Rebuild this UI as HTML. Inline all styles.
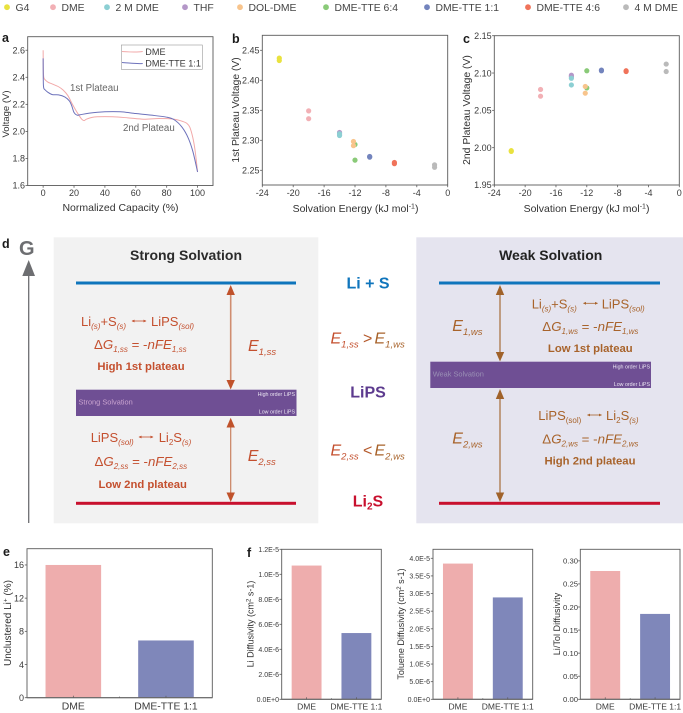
<!DOCTYPE html>
<html lang="en">
<head>
<meta charset="utf-8">
<title>Solvation energy and plateau voltage figure</title>
<style>
html,body{margin:0;padding:0;background:#fff;}
svg{display:block;font-family:"Liberation Sans",Arial,sans-serif;filter:blur(0.3px);}
</style>
</head>
<body>
<svg id="figure" xmlns="http://www.w3.org/2000/svg" width="683" height="713" viewBox="0 0 683 713">
  <rect x="0" y="0" width="683" height="713" fill="#ffffff"/>

  <g id="legend" font-size="10.4" fill="#444"></g>

  <g font-size="12.5" font-weight="bold" fill="#1a1a1a">
    <text x="2" y="42">a</text>
    <text x="232" y="43">b</text>
    <text x="463" y="43">c</text>
    <text x="2" y="248">d</text>
    <text x="3" y="556">e</text>
    <text x="247" y="557">f</text>
  </g>

  <g id="charts"></g>

  <g fill="#333">
    <text x="120.5" y="211" font-size="10.5" text-anchor="middle">Normalized Capacity (%)</text>
    <text transform="translate(9,114) rotate(-90)" font-size="9.5" text-anchor="middle">Voltage (V)</text>
    <text x="355.5" y="212" font-size="10.5" text-anchor="middle">Solvation Energy (kJ mol<tspan font-size="7" dy="-3.5">-1</tspan><tspan dy="3.5">)</tspan></text>
    <text transform="translate(239,110) rotate(-90)" font-size="10.3" text-anchor="middle">1st Plateau Voltage (V)</text>
    <text x="586.5" y="212" font-size="10.5" text-anchor="middle">Solvation Energy (kJ mol<tspan font-size="7" dy="-3.5">-1</tspan><tspan dy="3.5">)</tspan></text>
    <text transform="translate(470,110) rotate(-90)" font-size="10.4" text-anchor="middle">2nd Plateau Voltage (V)</text>
    <text transform="translate(11,623) rotate(-90)" font-size="10" text-anchor="middle">Unclustered Li<tspan font-size="6.5" dy="-3.5">+</tspan><tspan dy="3.5"> (%)</tspan></text>
    <text transform="translate(253.5,624) rotate(-90)" font-size="9" text-anchor="middle">Li Diffusivity (cm<tspan font-size="6" dy="-3">2</tspan><tspan dy="3"> s-1)</tspan></text>
    <text transform="translate(404,624) rotate(-90)" font-size="9" text-anchor="middle">Toluene Diffusivity (cm<tspan font-size="6" dy="-3">2</tspan><tspan dy="3"> s-1)</tspan></text>
    <text transform="translate(560,624) rotate(-90)" font-size="9.1" text-anchor="middle">Li/Tol Diffusivity</text>
  </g>

  <g id="diagram">
    <g>
      <text x="19" y="255" font-size="20" font-weight="bold" fill="#6d6e71">G</text>
      <line x1="28.7" y1="523" x2="28.7" y2="272" stroke="#6d6e71" stroke-width="1.3"/>
      <polygon points="28.7,260 22.3,276 35,276" fill="#6d6e71"/>
    </g>

    <g>
      <rect x="53.7" y="237.3" width="264.6" height="286" fill="#f2f2f2"/>
      <text x="186" y="260" font-size="14" font-weight="bold" fill="#2b2b2b" text-anchor="middle">Strong Solvation</text>
      <rect x="76" y="281.5" width="220" height="3" fill="#0f75bc"/>
      <rect x="76" y="389.7" width="220.5" height="26.3" fill="#6f4f94"/>
      <rect x="76" y="501.8" width="220" height="3" fill="#c8102e"/>
      <text x="78.5" y="404.5" font-size="7.4" fill="#c9a3cf">Strong Solvation</text>
      <text x="295" y="396" font-size="5.3" fill="#e8e2f0" text-anchor="end">High order LiPS</text>
      <text x="295" y="413.5" font-size="5.3" fill="#e8e2f0" text-anchor="end">Low order LiPS</text>

      <line x1="230.7" y1="290" x2="230.7" y2="385" stroke="#d08d70" stroke-width="1.6"/>
      <polygon points="230.7,285 226.5,295 234.9,295" fill="#c0522b"/>
      <polygon points="230.7,389.5 226.5,380 234.9,380" fill="#c0522b"/>
      <line x1="230.7" y1="423" x2="230.7" y2="497" stroke="#c9805f" stroke-width="1.2"/>
      <polygon points="230.7,417.7 226.5,427.5 234.9,427.5" fill="#c0522b"/>
      <polygon points="230.7,502 226.5,492.5 234.9,492.5" fill="#c0522b"/>

      <g fill="#c4502f">
        <text x="81" y="326" font-size="13">Li<tspan font-size="8" font-style="italic" dy="3">(s)</tspan><tspan dy="-3">+S</tspan><tspan font-size="8" font-style="italic" dy="3">(s)</tspan><tspan x="151" dy="-3">LiPS</tspan><tspan font-size="8" font-style="italic" dy="3">(sol)</tspan></text>
        <line x1="132" y1="321" x2="146" y2="321" stroke="#c4502f" stroke-width="0.8"/>
        <polygon points="131.5,321 134.5,319.6 134.5,322.4"/>
        <polygon points="146.5,321 143.5,319.6 143.5,322.4"/>
        <text x="94" y="349" font-size="13.3">Δ<tspan font-style="italic">G</tspan><tspan font-size="8" font-style="italic" dy="3">1,ss</tspan><tspan dy="-3"> = -</tspan><tspan font-style="italic">nFE</tspan><tspan font-size="8" font-style="italic" dy="3">1,ss</tspan></text>
        <text x="141" y="370" font-size="11.3" font-weight="bold" text-anchor="middle">High 1st plateau</text>
        <text x="248" y="351" font-size="16" font-style="italic">E<tspan font-size="9.5" dy="4">1,ss</tspan></text>

        <text x="90.7" y="442" font-size="13">LiPS<tspan font-size="8" font-style="italic" dy="3">(sol)</tspan><tspan x="158.7" dy="-3">Li</tspan><tspan font-size="8" dy="3">2</tspan><tspan dy="-3">S</tspan><tspan font-size="8" font-style="italic" dy="3">(s)</tspan></text>
        <line x1="139" y1="437" x2="153" y2="437" stroke="#c4502f" stroke-width="0.8"/>
        <polygon points="138.5,437 141.5,435.6 141.5,438.4"/>
        <polygon points="153.5,437 150.5,435.6 150.5,438.4"/>
        <text x="94.5" y="466" font-size="13.3">Δ<tspan font-style="italic">G</tspan><tspan font-size="8" font-style="italic" dy="3">2,ss</tspan><tspan dy="-3"> = -</tspan><tspan font-style="italic">nFE</tspan><tspan font-size="8" font-style="italic" dy="3">2,ss</tspan></text>
        <text x="142.7" y="488" font-size="11.3" font-weight="bold" text-anchor="middle">Low 2nd plateau</text>
        <text x="247.7" y="461" font-size="16" font-style="italic">E<tspan font-size="9.5" dy="4">2,ss</tspan></text>
      </g>
    </g>

    <g font-weight="bold" text-anchor="middle" font-size="16">
      <text x="368" y="288.5" fill="#0f75bc">Li + S</text>
      <text x="368" y="397.5" fill="#5c3a8e">LiPS</text>
      <text x="368" y="506.5" fill="#c8102e">Li<tspan font-size="10" dy="3">2</tspan><tspan dy="-3">S</tspan></text>
    </g>
    <g font-size="16" font-style="italic">
      <text x="330.5" y="343.5"><tspan fill="#c4502f">E</tspan><tspan fill="#c4502f" font-size="9.5" dy="4">1,ss</tspan><tspan x="363" dy="-4" fill="#b4592b" font-style="normal">&gt;</tspan><tspan x="374.5" fill="#a8632b">E</tspan><tspan fill="#a8632b" font-size="9.5" dy="4">1,ws</tspan></text>
      <text x="330.5" y="455.5"><tspan fill="#c4502f">E</tspan><tspan fill="#c4502f" font-size="9.5" dy="4">2,ss</tspan><tspan x="363" dy="-4" fill="#b4592b" font-style="normal">&lt;</tspan><tspan x="374.5" fill="#a8632b">E</tspan><tspan fill="#a8632b" font-size="9.5" dy="4">2,ws</tspan></text>
    </g>

    <g>
      <rect x="416.3" y="237.3" width="266.7" height="286" fill="#e5e4ef"/>
      <text x="550.7" y="260" font-size="14" font-weight="bold" fill="#222" text-anchor="middle">Weak Solvation</text>
      <rect x="439" y="281.5" width="221" height="3" fill="#0f75bc"/>
      <rect x="430.3" y="361.7" width="220.7" height="26.3" fill="#6f4f94"/>
      <rect x="439" y="501.8" width="221" height="3" fill="#c8102e"/>
      <text x="432.7" y="376.7" font-size="7.4" fill="#9a90b5">Weak Solvation</text>
      <text x="650" y="368.3" font-size="5.3" fill="#e8e2f0" text-anchor="end">High order LiPS</text>
      <text x="650" y="386" font-size="5.3" fill="#e8e2f0" text-anchor="end">Low order LiPS</text>

      <line x1="500" y1="290" x2="500" y2="357" stroke="#a0622a" stroke-width="1.1"/>
      <polygon points="500,285 495.8,295 504.2,295" fill="#a0622a"/>
      <polygon points="500,361.5 495.8,352 504.2,352" fill="#a0622a"/>
      <line x1="500" y1="394" x2="500" y2="497" stroke="#a0622a" stroke-width="1.1"/>
      <polygon points="500,389 495.8,399 504.2,399" fill="#a0622a"/>
      <polygon points="500,502 495.8,492.5 504.2,492.5" fill="#a0622a"/>

      <g fill="#a8632b">
        <text x="531.7" y="308.3" font-size="13">Li<tspan font-size="8" font-style="italic" dy="3">(s)</tspan><tspan dy="-3">+S</tspan><tspan font-size="8" font-style="italic" dy="3">(s)</tspan><tspan x="601.7" dy="-3">LiPS</tspan><tspan font-size="8" font-style="italic" dy="3">(sol)</tspan></text>
        <line x1="583.5" y1="303.3" x2="597.5" y2="303.3" stroke="#a8632b" stroke-width="0.8"/>
        <polygon points="583,303.3 586,301.9 586,304.7"/>
        <polygon points="598,303.3 595,301.9 595,304.7"/>
        <text x="542.3" y="331" font-size="13.3">Δ<tspan font-style="italic">G</tspan><tspan font-size="8" font-style="italic" dy="3">1,ws</tspan><tspan dy="-3"> = -</tspan><tspan font-style="italic">nFE</tspan><tspan font-size="8" font-style="italic" dy="3">1,ws</tspan></text>
        <text x="590.3" y="352" font-size="11.3" font-weight="bold" text-anchor="middle">Low 1st plateau</text>
        <text x="452.3" y="331" font-size="16" font-style="italic">E<tspan font-size="9.5" dy="4">1,ws</tspan></text>

        <text x="538.3" y="420" font-size="13">LiPS<tspan font-size="8" dy="3">(sol)</tspan><tspan x="606" dy="-3">Li</tspan><tspan font-size="8" dy="3">2</tspan><tspan dy="-3">S</tspan><tspan font-size="8" font-style="italic" dy="3">(s)</tspan></text>
        <line x1="587.5" y1="415" x2="601.5" y2="415" stroke="#a8632b" stroke-width="0.8"/>
        <polygon points="587,415 590,413.6 590,416.4"/>
        <polygon points="602,415 599,413.6 599,416.4"/>
        <text x="542.3" y="443.3" font-size="13.3">Δ<tspan font-style="italic">G</tspan><tspan font-size="8" font-style="italic" dy="3">2,ws</tspan><tspan dy="-3"> = -</tspan><tspan font-style="italic">nFE</tspan><tspan font-size="8" font-style="italic" dy="3">2,ws</tspan></text>
        <text x="590" y="464.5" font-size="11.3" font-weight="bold" text-anchor="middle">High 2nd plateau</text>
        <text x="452.3" y="443.3" font-size="16" font-style="italic">E<tspan font-size="9.5" dy="4">2,ws</tspan></text>
      </g>
    </g>
  </g>
</svg>

<script>
// ---- Panel a data ----
const dmeCapacity = [0, 0.05, 0.15, 0.4, 1, 3, 6, 10, 13, 16, 19, 22, 25, 26.5, 28, 31, 35, 45, 55, 65, 75, 85, 90, 93, 95, 97, 98.5, 100];
const dmeVoltage = [2.6, 2.52, 2.44, 2.4, 2.385, 2.365, 2.35, 2.33, 2.305, 2.265, 2.2, 2.14, 2.09, 2.08, 2.09, 2.102, 2.108, 2.108, 2.1, 2.09, 2.095, 2.09, 2.075, 2.06, 2.03, 1.95, 1.85, 1.7];
const tteCapacity = [0, 0.05, 0.15, 0.4, 1, 3, 6, 10, 14, 17, 18.5, 20, 22, 24, 30, 40, 50, 60, 70, 80, 85, 90, 94, 97, 100];
const tteVoltage = [2.54, 2.42, 2.35, 2.32, 2.31, 2.29, 2.272, 2.27, 2.255, 2.225, 2.19, 2.14, 2.12, 2.123, 2.135, 2.145, 2.145, 2.132, 2.12, 2.105, 2.085, 2.03, 1.95, 1.85, 1.7];
const capacityTicks = [0, 20, 40, 60, 80, 100];
const voltageTicks = [1.6, 1.8, 2.0, 2.2, 2.4, 2.6];
const voltageTickLabels = ["1.6", "1.8", "2.0", "2.2", "2.4", "2.6"];

// ---- Panels b, c data ----
const solvents = ["G4", "DME", "2 M DME", "THF", "DOL-DME", "DME-TTE 6:4", "DME-TTE 1:1", "DME-TTE 4:6", "4 M DME"];
const solvationEnergy = [-21.8, -18, -14, -14, -12.2, -12, -10.1, -6.9, -1.7];
const firstPlateauA = [2.437, 2.349, 2.311, 2.313, 2.298, 2.293, 2.273, 2.263, 2.259];
const firstPlateauB = [2.433, 2.336, 2.308, 2.309, 2.291, 2.267, 2.272, 2.261, 2.255];
const secondPlateauA = [1.996, 2.078, 2.093, 2.097, 2.082, 2.103, 2.104, 2.103, 2.112];
const secondPlateauB = [1.995, 2.069, 2.084, 2.095, 2.073, 2.080, 2.103, 2.102, 2.102];
const energyTicks = [-24, -20, -16, -12, -8, -4, 0];
const firstPlateauTicks = [2.25, 2.30, 2.35, 2.40, 2.45];
const firstPlateauTickLabels = ["2.25", "2.30", "2.35", "2.40", "2.45"];
const secondPlateauTicks = [1.95, 2.00, 2.05, 2.10, 2.15];
const secondPlateauTickLabels = ["1.95", "2.00", "2.05", "2.10", "2.15"];

// ---- Panels e, f data ----
const barCategories = ["DME", "DME-TTE 1:1"];
const unclusteredValues = [16, 6.9];
const unclusteredTicks = [0, 4, 8, 12, 16];
const unclusteredTickLabels = ["0", "4", "8", "12", "16"];
const liDiffusivityValues = [1.07e-5, 5.3e-6];
const liDiffusivityTicks = [0, 2e-6, 4e-6, 6e-6, 8e-6, 1e-5, 1.2e-5];
const liDiffusivityTickLabels = ["0.0E+0", "2.0E-6", "4.0E-6", "6.0E-6", "8.0E-6", "1.0E-5", "1.2E-5"];
const tolueneDiffusivityValues = [3.85e-5, 2.89e-5];
const tolueneDiffusivityTicks = [0, 5e-6, 1e-5, 1.5e-5, 2e-5, 2.5e-5, 3e-5, 3.5e-5, 4e-5];
const tolueneDiffusivityTickLabels = ["0.0E+0", "5.0E-6", "1.0E-5", "1.5E-5", "2.0E-5", "2.5E-5", "3.0E-5", "3.5E-5", "4.0E-5"];
const ratioValues = [0.278, 0.185];
const ratioTicks = [0, 0.05, 0.10, 0.15, 0.20, 0.25, 0.30];
const ratioTickLabels = ["0.00", "0.05", "0.10", "0.15", "0.20", "0.25", "0.30"];

// ---- Styling and layout, separate from data ----
const solventColors = ["#e9e23f", "#f2b0b5", "#8ccfd3", "#b497c8", "#f8c48c", "#8aca78", "#7384bd", "#f0735a", "#bababa"];
const legendDotX = [7, 53, 107, 185, 240, 326, 427, 528, 626];
const drawOrder = [0, 1, 3, 2, 5, 4, 6, 7, 8];
const barColors = ["#eeadad", "#7f87ba"];
const SVGNS = "http://www.w3.org/2000/svg";
const root = document.getElementById("charts");

function el(tag, attrs, parent) {
  const node = document.createElementNS(SVGNS, tag);
  for (const k in attrs) node.setAttribute(k, attrs[k]);
  parent.appendChild(node);
  return node;
}
function label(str, x, y, size, anchor, fill, parent) {
  const node = el("text", { x: x, y: y, "font-size": size, "text-anchor": anchor, fill: fill }, parent);
  node.textContent = str;
  return node;
}
function linear(d0, d1, r0, r1) {
  return function (v) { return r0 + (v - d0) * (r1 - r0) / (d1 - d0); };
}
function smoothPath(xs, ys) {
  let d = "M" + xs[0].toFixed(2) + " " + ys[0].toFixed(2);
  for (let i = 0; i < xs.length - 1; i++) {
    const p0 = Math.max(i - 1, 0), p3 = Math.min(i + 2, xs.length - 1);
    const c1x = xs[i] + (xs[i + 1] - xs[p0]) / 6, c1y = ys[i] + (ys[i + 1] - ys[p0]) / 6;
    const c2x = xs[i + 1] - (xs[p3] - xs[i]) / 6, c2y = ys[i + 1] - (ys[p3] - ys[i]) / 6;
    d += "C" + c1x.toFixed(2) + " " + c1y.toFixed(2) + " " + c2x.toFixed(2) + " " + c2y.toFixed(2) + " " + xs[i + 1].toFixed(2) + " " + ys[i + 1].toFixed(2);
  }
  return d;
}
function frame(box, parent) {
  const r = el("rect", { x: box.l, y: box.t, width: box.r - box.l, height: box.b - box.t, fill: "none", stroke: "#5a5a5a", "stroke-width": 0.9 }, parent);
  
  
}
function yAxis(box, scale, ticks, labels, size, labelRight, parent) {
  ticks.forEach(function (v, i) {
    const t = el("line", { x1: box.l - 2.2, x2: box.l, y1: scale(v), y2: scale(v), stroke: "#5a5a5a", "stroke-width": 0.8 }, parent);
    
    
    const s = label(labels[i], labelRight, scale(v) + size * 0.36, size, "end", "#3a3a3a", parent);
    
    
  });
}
function xAxis(box, scale, ticks, size, baseline, parent) {
  ticks.forEach(function (v) {
    const t = el("line", { x1: scale(v), x2: scale(v), y1: box.b, y2: box.b + 2.2, stroke: "#5a5a5a", "stroke-width": 0.8 }, parent);
    
    
    const s = label(String(v), scale(v), baseline, size, "middle", "#3a3a3a", parent);
    
    
  });
}

// ---- Legend ----
const legendGroup = document.getElementById("legend");
solvents.forEach(function (name, i) {
  const dot = el("circle", { cx: legendDotX[i], cy: 7.2, r: 2.9, fill: solventColors[i] }, legendGroup);
  
  
  const t = label(name, legendDotX[i] + 8.5, 11, 10.4, "start", "#444", legendGroup);
  
  
});

// ---- Panel a ----
(function () {
  const g = el("g", {}, root);
  
  
  const box = { l: 27.7, r: 213, t: 36.7, b: 185.5 };
  const x = linear(-10, 110, box.l, box.r);
  const y = linear(1.6, 2.7, box.b, box.t);
  frame(box, g);
  yAxis(box, y, voltageTicks, voltageTickLabels, 9, 25, g);
  xAxis(box, x, capacityTicks, 9, 196, g);

  const dme = el("path", { d: smoothPath(dmeCapacity.map(x), dmeVoltage.map(y)), fill: "none", stroke: "#f2a9a9", "stroke-width": 1 }, g);
  
  
  const tte = el("path", { d: smoothPath(tteCapacity.map(x), tteVoltage.map(y)), fill: "none", stroke: "#6d72bb", "stroke-width": 1 }, g);
  
  

  const a1 = label("1st Plateau", 70, 91, 9.7, "start", "#666", g);
  
  
  const a2 = label("2nd Plateau", 123, 131, 9.7, "start", "#666", g);
  
  

  const lb = el("rect", { x: 121.3, y: 45, width: 81, height: 24.3, fill: "#fff", stroke: "#9a9a9a", "stroke-width": 0.6 }, g);
  
  
  const l1 = el("path", { d: "M122 51.5 C130 52 136 52.5 142.7 51.5", fill: "none", stroke: "#f2a9a9", "stroke-width": 1 }, g);
  
  
  const l2 = el("path", { d: "M122 62.5 C130 63 136 64 142.7 63.5", fill: "none", stroke: "#6d72bb", "stroke-width": 1 }, g);
  
  
  const t1 = label("DME", 145.3, 55, 9.1, "start", "#3a3a3a", g);
  
  
  const t2 = label("DME-TTE 1:1", 145.3, 66.5, 9.1, "start", "#3a3a3a", g);
  
  
})();

// ---- Panels b, c ----
function scatter(box, yMin, yMax, seriesA, seriesB, yTicks, yLabels, labelRight, name) {
  const g = el("g", {}, root);
  
  
  const x = linear(-24, 0, box.l, box.r);
  const y = linear(yMin, yMax, box.b, box.t);
  frame(box, g);
  yAxis(box, y, yTicks, yLabels, 9, labelRight, g);
  xAxis(box, x, energyTicks, 9, 196, g);
  drawOrder.forEach(function (i) {
    [seriesA, seriesB].forEach(function (series) {
      const p = el("circle", { cx: x(solvationEnergy[i]), cy: y(series[i]), r: 2.6, fill: solventColors[i] }, g);
      
      
    });
  });
}
scatter({ l: 262.3, r: 447.7, t: 35.3, b: 185 }, 2.2255, 2.475, firstPlateauA, firstPlateauB, firstPlateauTicks, firstPlateauTickLabels, 259.5, "first-plateau-scatter-chart");
scatter({ l: 494.3, r: 679.3, t: 35.7, b: 185 }, 1.95, 2.15, secondPlateauA, secondPlateauB, secondPlateauTicks, secondPlateauTickLabels, 491.7, "second-plateau-scatter-chart");

// ---- Panels e, f ----
function barChart(box, yMax, values, yTicks, yLabels, tickSize, labelRight, catSize, name) {
  const g = el("g", {}, root);
  
  
  const y = linear(0, yMax, box.b, box.t);
  const band = (box.r - box.l) / barCategories.length;
  const barW = band * 0.6;
  values.forEach(function (v, i) {
    const cx = box.l + band * (i + 0.5);
    const b = el("rect", { x: cx - barW / 2, y: y(v), width: barW, height: box.b - y(v), fill: barColors[i] }, g);
    
    
  });
  frame(box, g);
  const base = el("line", { x1: box.l, x2: box.r, y1: box.b, y2: box.b, stroke: "#6a6a6a", "stroke-width": 1.2 }, g);
  
  
  yAxis(box, y, yTicks, yLabels, tickSize, labelRight, g);
  barCategories.forEach(function (c, i) {
    const cx = box.l + band * (i + 0.5);
    const t = el("line", { x1: cx, x2: cx, y1: box.b - 2, y2: box.b, stroke: "#5a5a5a", "stroke-width": 0.7 }, g);
    
    
    const s = label(c, cx, 709.5, catSize, "middle", "#3a3a3a", g);
    
    
  });
  const minor = el("line", { x1: (box.l + box.r) / 2, x2: (box.l + box.r) / 2, y1: box.b - 1.2, y2: box.b, stroke: "#5a5a5a", "stroke-width": 0.6 }, g);
  
  
}
barChart({ l: 27, r: 212.3, t: 548.7, b: 697.7 }, 17.96, unclusteredValues, unclusteredTicks, unclusteredTickLabels, 9, 24, 10.4, "unclustered-li-bar-chart");
barChart({ l: 281.7, r: 381.3, t: 549.3, b: 699.3 }, 1.2e-5, liDiffusivityValues, liDiffusivityTicks, liDiffusivityTickLabels, 7, 279, 8.5, "li-diffusivity-bar-chart");
barChart({ l: 433, r: 532.7, t: 549.3, b: 699.3 }, 4.255e-5, tolueneDiffusivityValues, tolueneDiffusivityTicks, tolueneDiffusivityTickLabels, 7, 430, 8.5, "toluene-diffusivity-bar-chart");
barChart({ l: 580.3, r: 680, t: 549.3, b: 699.3 }, 0.325, ratioValues, ratioTicks, ratioTickLabels, 7.7, 578, 8.5, "li-tol-diffusivity-bar-chart");
</script>
</body>
</html>
